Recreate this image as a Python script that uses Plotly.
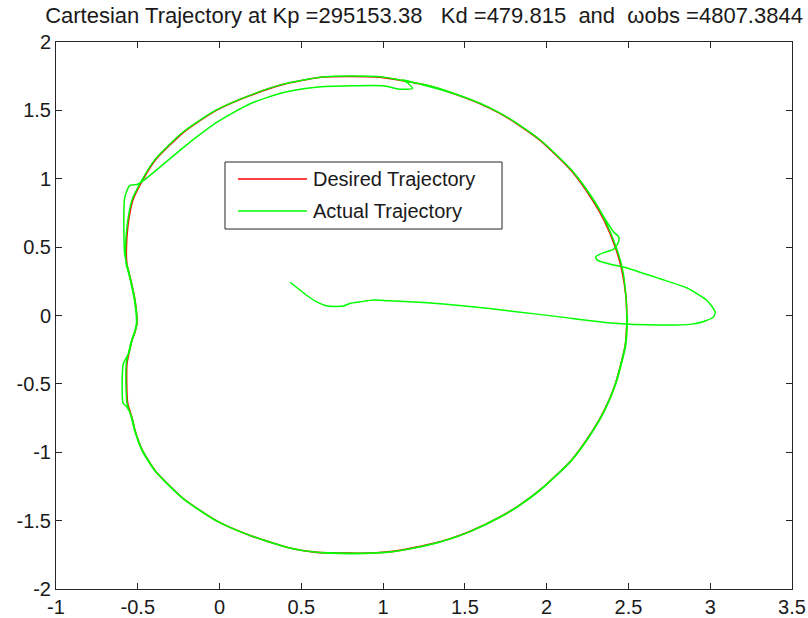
import plotly.graph_objects as go

# Desired end-effector path (closed loop, counter-clockwise from the right)
desired_x = [2.49, 2.485, 2.46, 2.42, 2.35, 2.28, 2.15, 1.96, 1.82, 1.71, 1.59, 1.42, 1.26,
             1.13, 0.98, 0.80, 0.63, 0.39, 0.19, -0.02, -0.22, -0.39, -0.47, -0.53, -0.56,
             -0.57, -0.566, -0.553, -0.54, -0.517, -0.505, -0.517, -0.535, -0.553, -0.566,
             -0.568, -0.562, -0.535, -0.517, -0.47, -0.39, -0.22, -0.02, 0.19, 0.43, 0.58,
             0.80, 0.96, 1.06, 1.16, 1.29, 1.41, 1.53, 1.72, 1.83, 1.965, 2.15, 2.28, 2.35,
             2.42, 2.48, 2.49, 2.49]
desired_y = [0.00, 0.135, 0.33, 0.50, 0.70, 0.845, 1.06, 1.28, 1.40, 1.48, 1.55, 1.627, 1.685,
             1.715, 1.743, 1.748, 1.744, 1.69, 1.61, 1.50, 1.34, 1.14, 0.99, 0.845, 0.66,
             0.48, 0.37, 0.31, 0.245, 0.11, -0.055, -0.12, -0.18, -0.27, -0.35,
             -0.50, -0.64, -0.75, -0.84, -0.99, -1.14, -1.34, -1.50, -1.61, -1.70, -1.73,
             -1.738, -1.735, -1.725, -1.705, -1.672, -1.632, -1.58, -1.47, -1.39, -1.27, -1.06,
             -0.845, -0.70, -0.50, -0.22, -0.055, 0.00]

# Actual end-effector path: start-up transient, first lap, then converged second lap
actual_x = [0.432, 0.53, 0.594, 0.66, 0.755, 0.80, 0.86, 0.94, 1.03, 1.25, 1.50, 1.80, 2.08,
            2.39, 2.69, 2.89, 2.97, 3.02, 3.03, 2.98, 2.86, 2.69, 2.47, 2.39, 2.31, 2.30,
            2.35, 2.41, 2.44, 2.44, 2.41, 2.355, 2.285, 2.155, 1.965, 1.825, 1.715, 1.595,
            1.425, 1.265, 1.12, 1.15, 1.18, 1.10, 1.00, 0.80, 0.59, 0.39, 0.19, -0.02,
            -0.22, -0.44, -0.50, -0.55, -0.58, -0.585, -0.58, -0.566, -0.553, -0.54, -0.517,
            -0.505, -0.517, -0.535, -0.553, -0.575, -0.59, -0.59, -0.566, -0.535, -0.517,
            -0.47, -0.39, -0.22, -0.02, 0.19, 0.43, 0.58, 0.80, 0.96, 1.06, 1.16, 1.29,
            1.41, 1.53, 1.72, 1.83, 1.965, 2.15, 2.28, 2.35, 2.42, 2.48, 2.49, 2.485, 2.465,
            2.425, 2.355, 2.285, 2.155, 1.965, 1.825, 1.715, 1.595, 1.425, 1.265, 1.135,
            0.985, 0.80, 0.625, 0.385, 0.185, -0.025, -0.225, -0.395, -0.475, -0.535,
            -0.565, -0.575, -0.57, -0.556, -0.543, -0.52, -0.508, -0.52, -0.538, -0.556,
            -0.57, -0.572, -0.566, -0.538, -0.52, -0.473, -0.393, -0.223, -0.023, 0.187,
            0.427, 0.577, 0.80, 0.963, 1.063, 1.163, 1.293, 1.413, 1.533, 1.723, 1.833,
            1.968, 2.153, 2.283, 2.353, 2.423, 2.483, 2.493, 2.493]
actual_y = [0.243, 0.15, 0.10, 0.069, 0.069, 0.09, 0.10, 0.113, 0.108, 0.095, 0.07, 0.03, -0.01,
            -0.055, -0.07, -0.063, -0.04, -0.01, 0.026, 0.11, 0.20, 0.27, 0.355, 0.375, 0.405,
            0.43, 0.46, 0.485, 0.54, 0.575, 0.61, 0.71, 0.85, 1.06, 1.28, 1.40, 1.48, 1.55,
            1.625, 1.68, 1.725, 1.70, 1.66, 1.655, 1.68, 1.68, 1.67, 1.63, 1.55, 1.41,
            1.23, 1.01, 0.96, 0.95, 0.86, 0.60, 0.45, 0.37, 0.31, 0.245, 0.11,
            -0.055, -0.12, -0.18, -0.27, -0.32, -0.36, -0.64, -0.67, -0.75, -0.84,
            -0.99, -1.14, -1.34, -1.50, -1.61, -1.70, -1.73, -1.742, -1.737, -1.727, -1.708,
            -1.675, -1.632, -1.58, -1.47, -1.39, -1.27, -1.06, -0.845, -0.70, -0.50, -0.22,
            -0.055, 0.135, 0.33, 0.50, 0.70, 0.845, 1.06, 1.28, 1.40, 1.48, 1.55, 1.627,
            1.685, 1.715, 1.745, 1.752, 1.744, 1.69, 1.61, 1.50, 1.34, 1.14, 0.99, 0.845,
            0.66, 0.48, 0.37, 0.31, 0.245, 0.11, -0.055, -0.12, -0.18, -0.27, -0.35,
            -0.50, -0.64, -0.75, -0.84, -0.99, -1.14, -1.34, -1.50, -1.61, -1.70, -1.73,
            -1.738, -1.735, -1.725, -1.705, -1.672, -1.632, -1.58, -1.47, -1.39, -1.27, -1.06,
            -0.845, -0.70, -0.50, -0.22, -0.055, 0.00]

x_ticks = [-1, -0.5, 0, 0.5, 1, 1.5, 2, 2.5, 3, 3.5]
y_ticks = [-2, -1.5, -1, -0.5, 0, 0.5, 1, 1.5, 2]
series_names = ["Desired Trajectory", "Actual Trajectory"]
series_colors = ["#FF0000", "#00FF00"]

NB = "\u00a0"
title_text = ("Cartesian Trajectory at Kp =295153.38" + NB * 3 + "Kd =479.815" + NB * 2
              + "and" + NB * 2 + "\u03c9obs =4807.3844")

FONT = "Liberation Sans, Arial, sans-serif"
TEXT_COLOR = "#1a1a1a"

fig = go.Figure()
fig.add_trace(go.Scatter(x=desired_x, y=desired_y, mode="lines", name=series_names[0],
                         line=dict(color=series_colors[0], width=1.6, shape="spline",
                                   smoothing=0.6),
                         showlegend=False))
fig.add_trace(go.Scatter(x=actual_x, y=actual_y, mode="lines", name=series_names[1],
                         line=dict(color=series_colors[1], width=1.5, shape="spline",
                                   smoothing=0.6),
                         showlegend=False))

axis_common = dict(showgrid=False, zeroline=False, showline=True, linecolor="#262626",
                   linewidth=1, mirror="ticks", ticks="inside", ticklen=6, automargin=False,
                   tickcolor="#262626", tickfont=dict(family=FONT, size=20, color=TEXT_COLOR))

fig.update_xaxes(range=[-1, 3.5], tickvals=x_ticks, ticktext=[f"{v:g}" for v in x_ticks],
                 **axis_common)
fig.update_yaxes(range=[-2, 2], tickvals=y_ticks, ticktext=[f"{v:g}" for v in y_ticks],
                 **axis_common)

# Legend box drawn in paper coordinates
leg_x0, leg_x1, leg_y0, leg_y1 = 0.2296, 0.6060, 0.6581, 0.7806
line_x0, line_x1, text_x = 0.2473, 0.3410, 0.3470
row_y = [0.7495, 0.6910]
shapes = [dict(type="rect", xref="paper", yref="paper", x0=leg_x0, x1=leg_x1, y0=leg_y0,
               y1=leg_y1, line=dict(color="#262626", width=1), fillcolor="white", layer="above")]
annotations = []
for name, color, ry in zip(series_names, series_colors, row_y):
    shapes.append(dict(type="line", xref="paper", yref="paper", x0=line_x0, x1=line_x1,
                       y0=ry, y1=ry, line=dict(color=color, width=1.5), layer="above"))
    annotations.append(dict(xref="paper", yref="paper", x=text_x, y=ry, text=name,
                            showarrow=False, xanchor="left", yanchor="middle",
                            font=dict(family=FONT, size=20, color=TEXT_COLOR)))

fig.update_layout(
    width=808, height=618,
    margin=dict(l=56, r=16, t=42, b=29),
    paper_bgcolor="white", plot_bgcolor="white",
    title=dict(text=title_text, x=0.5248, xanchor="center", xref="container",
               y=1 - 15 / 618, yanchor="middle", yref="container",
               font=dict(family=FONT, size=22, color=TEXT_COLOR)),
    shapes=shapes, annotations=annotations,
)

fig.write_html("out.html")
